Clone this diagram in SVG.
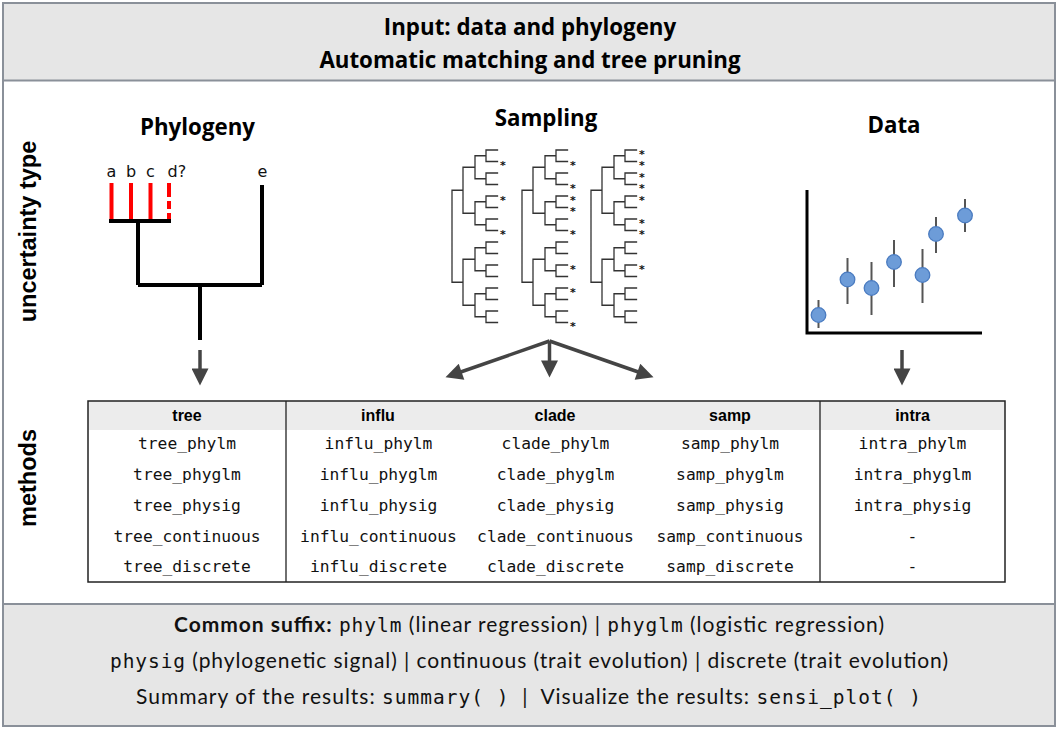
<svg xmlns="http://www.w3.org/2000/svg" xmlns:xlink="http://www.w3.org/1999/xlink" width="1060" height="731" viewBox="0 0 1060 731">
<style>
.title{font-family:"Open Sans","Noto Sans",sans-serif;font-weight:bold;font-size:22.3px;fill:#000;text-anchor:middle}
.side{font-family:"Liberation Sans",Arial,sans-serif;font-weight:bold;font-size:23.5px;fill:#000;text-anchor:middle}
.leaf{font-family:"DejaVu Sans",sans-serif;font-size:16px;fill:#111}
.th{font-family:"Liberation Sans",Arial,sans-serif;font-weight:bold;font-size:16px;fill:#000;text-anchor:middle}
.td{font-family:"DejaVu Sans Mono","Liberation Mono",monospace;font-size:16.3px;fill:#111;text-anchor:middle}
.foot{font-family:"Lato","Open Sans",sans-serif;font-size:21px;fill:#111;text-anchor:middle}
.mono{font-family:"DejaVu Sans Mono","Liberation Mono",monospace;font-size:19.5px}
.ast{font-family:"DejaVu Sans",sans-serif;font-weight:bold;font-size:11px;fill:#111;text-anchor:middle}
.tree{fill:none;stroke:#333;stroke-width:1.3;stroke-linecap:square}
.arrow{fill:none;stroke:#444;stroke-width:3.5}
.dot{fill:#6d9cd8;stroke:#4a7bc0;stroke-width:1.3}
.err{stroke:#555;stroke-width:2}
</style>
<defs>
<marker id="ah" viewBox="0 0 10 10" refX="5" refY="5" markerWidth="22" markerHeight="17" markerUnits="userSpaceOnUse" orient="auto">
<path d="M0,0 L10,5 L0,10 z" fill="#444"/>
</marker>
<path id="stree" class="tree" d="M0 190.25V282.25M0 190.25H11M0 282.25H11
M11 167.25V213.25M11 259.25V305.25M11 167.25H23M11 213.25H23M11 259.25H23M11 305.25H23
M23 155.75V178.75M23 201.75V224.75M23 247.75V270.75M23 293.75V316.75
M23 155.75H34M23 178.75H34M23 201.75H34M23 224.75H34M23 247.75H34M23 270.75H34M23 293.75H34M23 316.75H34
M34 150V161.5M34 173V184.5M34 196V207.5M34 219V230.5M34 242V253.5M34 265V276.5M34 288V299.5M34 311V322.5
M34 150H45.5M34 161.5H45.5M34 173H45.5M34 184.5H45.5M34 196H45.5M34 207.5H45.5M34 219H45.5M34 230.5H45.5
M34 242H45.5M34 253.5H45.5M34 265H45.5M34 276.5H45.5M34 288H45.5M34 299.5H45.5M34 311H45.5M34 322.5H45.5"/>
</defs>

<g id="frame">
<rect x="3" y="3" width="1052" height="723" fill="#fff" stroke="#8a9099" stroke-width="2"/>
</g>

<g id="header">
<rect x="3" y="3" width="1052" height="77.5" fill="#e6e6e6" stroke="#8a9099" stroke-width="2"/>
<text class="title" x="530" y="35">Input: data and phylogeny</text>
<text class="title" x="530" y="68">Automatic matching and tree pruning</text>
</g>

<g id="label-uncertainty">
<text class="side" transform="translate(36,231.5) rotate(-90)">uncertainty type</text>
</g>
<g id="label-methods">
<text class="side" transform="translate(36,478) rotate(-90)">methods</text>
</g>

<g id="phylogeny">
<text class="title" x="197.5" y="135">Phylogeny</text>
<text class="leaf" x="111.5" y="177" text-anchor="middle">a</text>
<text class="leaf" x="131" y="177" text-anchor="middle">b</text>
<text class="leaf" x="150.5" y="177" text-anchor="middle">c</text>
<text class="leaf" x="167.5" y="177">d?</text>
<text class="leaf" x="262.5" y="177" text-anchor="middle">e</text>
<g stroke="#f00" stroke-width="4">
<line x1="111.5" y1="183" x2="111.5" y2="221"/>
<line x1="131" y1="183" x2="131" y2="221"/>
<line x1="150.5" y1="183" x2="150.5" y2="221"/>
<line x1="169" y1="183" x2="169" y2="221" stroke-dasharray="14,4,8,4"/>
</g>
<path d="M109 221H171M138 221V285M138 285H262M262 185V285M200 285V340" fill="none" stroke="#000" stroke-width="4"/>
</g>

<g id="sampling">
<text class="title" x="546" y="126">Sampling</text>
<use xlink:href="#stree" x="452"/>
<use xlink:href="#stree" x="522"/>
<use xlink:href="#stree" x="591"/>
<text class="ast" x="503" y="169">*</text>
<text class="ast" x="503" y="203.5">*</text>
<text class="ast" x="503" y="238">*</text>
<text class="ast" x="573" y="169">*</text>
<text class="ast" x="573" y="192">*</text>
<text class="ast" x="573" y="203.5">*</text>
<text class="ast" x="573" y="215">*</text>
<text class="ast" x="573" y="238">*</text>
<text class="ast" x="573" y="272.5">*</text>
<text class="ast" x="573" y="295.5">*</text>
<text class="ast" x="573" y="330">*</text>
<text class="ast" x="642" y="157.5">*</text>
<text class="ast" x="642" y="169">*</text>
<text class="ast" x="642" y="180.5">*</text>
<text class="ast" x="642" y="192">*</text>
<text class="ast" x="642" y="203.5">*</text>
<text class="ast" x="642" y="226.5">*</text>
<text class="ast" x="642" y="238">*</text>
<text class="ast" x="642" y="272.5">*</text>
</g>

<g id="data">
<text class="title" x="894" y="133">Data</text>
<path d="M807 190V333H982" fill="none" stroke="#000" stroke-width="3"/>
<g class="err">
<line x1="818.5" y1="300" x2="818.5" y2="328"/>
<line x1="847.5" y1="258" x2="847.5" y2="304"/>
<line x1="871.5" y1="262" x2="871.5" y2="315"/>
<line x1="894" y1="240" x2="894" y2="287"/>
<line x1="922.5" y1="249" x2="922.5" y2="303"/>
<line x1="936" y1="217" x2="936" y2="253"/>
<line x1="965" y1="199" x2="965" y2="232"/>
</g>
<circle class="dot" cx="818.5" cy="315" r="7.3"/>
<circle class="dot" cx="847.5" cy="279.5" r="7.3"/>
<circle class="dot" cx="871.5" cy="288" r="7.3"/>
<circle class="dot" cx="894" cy="262" r="7.3"/>
<circle class="dot" cx="922.5" cy="275" r="7.3"/>
<circle class="dot" cx="936" cy="234" r="7.3"/>
<circle class="dot" cx="965" cy="215.5" r="7.3"/>
</g>

<g id="connectors">
<line class="arrow" x1="200" y1="350" x2="200" y2="377" marker-end="url(#ah)"/>
<line class="arrow" x1="549.5" y1="341" x2="453.5" y2="374.5" marker-end="url(#ah)"/>
<line class="arrow" x1="549.5" y1="341" x2="549.5" y2="369" marker-end="url(#ah)"/>
<line class="arrow" x1="549.5" y1="341" x2="645.5" y2="374.5" marker-end="url(#ah)"/>
<line class="arrow" x1="902" y1="350" x2="902" y2="377" marker-end="url(#ah)"/>
</g>

<g id="table">
<rect x="88" y="401" width="917" height="181" fill="#fff"/>
<rect x="88" y="401" width="917" height="29" fill="#ececec"/>
<rect x="88" y="401" width="917" height="181" fill="none" stroke="#222" stroke-width="1.5"/>
<line x1="286" y1="401" x2="286" y2="582" stroke="#222" stroke-width="1.3"/>
<line x1="820" y1="401" x2="820" y2="582" stroke="#222" stroke-width="1.3"/>
<text class="th" x="187" y="420.5">tree</text>
<text class="th" x="378" y="420.5">influ</text>
<text class="th" x="555" y="420.5">clade</text>
<text class="th" x="730" y="420.5">samp</text>
<text class="th" x="912.5" y="420.5">intra</text>
<text class="td" x="187" y="449">tree_phylm</text>
<text class="td" x="187" y="480">tree_phyglm</text>
<text class="td" x="187" y="511">tree_physig</text>
<text class="td" x="187" y="541.5">tree_continuous</text>
<text class="td" x="187" y="572">tree_discrete</text>
<text class="td" x="378.5" y="449">influ_phylm</text>
<text class="td" x="378.5" y="480">influ_phyglm</text>
<text class="td" x="378.5" y="511">influ_physig</text>
<text class="td" x="378.5" y="541.5">influ_continuous</text>
<text class="td" x="378.5" y="572">influ_discrete</text>
<text class="td" x="555.5" y="449">clade_phylm</text>
<text class="td" x="555.5" y="480">clade_phyglm</text>
<text class="td" x="555.5" y="511">clade_physig</text>
<text class="td" x="555.5" y="541.5">clade_continuous</text>
<text class="td" x="555.5" y="572">clade_discrete</text>
<text class="td" x="730" y="449">samp_phylm</text>
<text class="td" x="730" y="480">samp_phyglm</text>
<text class="td" x="730" y="511">samp_physig</text>
<text class="td" x="730" y="541.5">samp_continuous</text>
<text class="td" x="730" y="572">samp_discrete</text>
<text class="td" x="912.5" y="449">intra_phylm</text>
<text class="td" x="912.5" y="480">intra_phyglm</text>
<text class="td" x="912.5" y="511">intra_physig</text>
<text class="td" x="912.5" y="541.5">-</text>
<text class="td" x="912.5" y="572">-</text>
</g>

<g id="footer">
<rect x="3" y="604" width="1052" height="122" fill="#e6e6e6" stroke="#8a9099" stroke-width="2"/>
<text class="foot" x="529" y="632" textLength="710" lengthAdjust="spacing"><tspan font-weight="bold">Common suffix:</tspan> <tspan class="mono">phylm</tspan> (linear regression) | <tspan class="mono">phyglm</tspan> (logistic regression)</text>
<text class="foot" x="529" y="668" textLength="838" lengthAdjust="spacing"><tspan class="mono">physig</tspan> (phylogenetic signal) | continuous (trait evolution) | discrete (trait evolution)</text>
<text class="foot" x="528.5" y="704" textLength="785" lengthAdjust="spacing">Summary of the results: <tspan class="mono">summary(&#160;)</tspan>&#160; |&#160; Visualize the results: <tspan class="mono">sensi_plot(&#160;)</tspan></text>
</g>
</svg>
